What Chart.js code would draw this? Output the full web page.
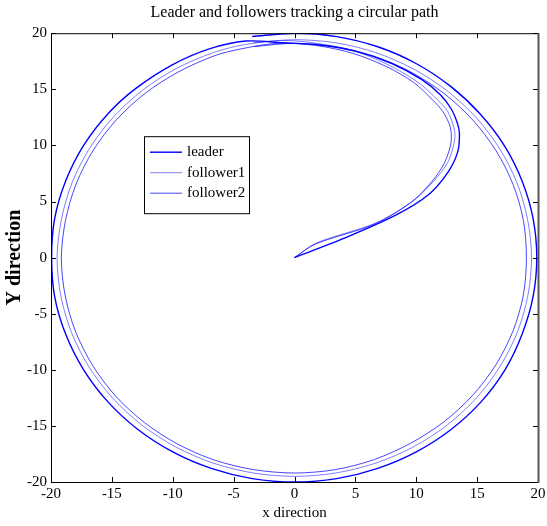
<!DOCTYPE html>
<html>
<head>
<meta charset="utf-8">
<script src="https://cdn.jsdelivr.net/npm/chart.js@4.4.0/dist/chart.umd.min.js"></script>
<style>
  body { margin: 0; background: #fff; }
  #wrap { width: 547px; height: 526px; }
</style>
</head>
<body>
<div id="wrap"><canvas id="chart" width="547" height="526"></canvas></div>
<script>
// values
const leaderX = [0, 4.4, 8.35, 11.0, 12.6, 13.4, 13.55, 13.4, 12.9, 12.0, 10.4, 8.0, 5.0, 2.0, -1.0, -4.0, -7.0, -10.0, -13.0, -15.3,
  -17.32, -18.79, -19.7, -19.95, -19.7, -18.79, -17.32, -15.32, -12.86, -10.0, -6.84, -3.47, 0, 3.47, 6.84, 10.0, 12.86, 15.32,
  17.3, 18.7, 19.6, 19.9, 19.6, 18.7, 17.25, 15.25, 12.8, 9.98, 6.84, 3.47, 0, -3.47];
const leaderY = [0, 1.87, 3.8, 5.6, 7.6, 9.4, 11.0, 11.9, 13.2, 14.5, 15.9, 17.3, 18.4, 18.95, 19.15, 19.3, 18.6, 17.2, 15.1, 12.85,
  10.0, 6.84, 3.47, 0, -3.47, -6.84, -10.0, -12.86, -15.32, -17.32, -18.79, -19.7, -20, -19.7, -18.79, -17.32, -15.32, -12.86,
  -9.98, -6.8, -3.46, 0, 3.46, 6.8, 9.96, 12.8, 15.28, 17.3, 18.79, 19.7, 20, 19.7];

const follower1X = [0, 1.8, 6.7, 9.8, 11.5, 12.6, 13.1, 13.15, 12.6, 11.7, 10.3, 8.2, 5.5, 2.4, -0.8, -4.0, -6.65, -9.73, -12.5, -14.9,
  -16.84, -18.28, -19.15, -19.5, -19.2, -18.32, -16.88, -14.93, -12.53, -9.75, -6.67, -3.38, 0, 3.38, 6.67, 9.75, 12.53, 14.93,
  16.86, 18.3, 19.17, 19.47, 19.15, 18.28, 16.84, 14.9, 12.5, 9.73, 6.65, 3.38, 0, -3.38];
const follower1Y = [0, 1.3, 3.1, 5.1, 6.9, 8.5, 10.2, 11.3, 13.0, 14.1, 15.5, 16.9, 18.2, 19.0, 19.35, 19.0, 18.28, 16.84, 14.9, 12.5,
  9.73, 6.65, 3.38, 0, -3.38, -6.67, -9.75, -12.53, -14.93, -16.88, -18.32, -19.2, -19.5, -19.2, -18.32, -16.88, -14.93, -12.53,
  -9.74, -6.66, -3.38, 0, 3.38, 6.65, 9.73, 12.5, 14.9, 16.84, 18.28, 19.15, 19.42, 19.15];

const follower2X = [0, 1.7, 6.6, 9.6, 11.3, 12.3, 12.85, 12.8, 12.2, 11.3, 9.8, 7.6, 4.8, 1.8, -1.4, -4.4, -6.55, -9.55, -12.28, -14.63,
  -16.54, -17.95, -18.81, -19.15, -18.85, -18.0, -16.6, -14.7, -12.33, -9.6, -6.57, -3.34, 0, 3.33, 6.55, 9.55, 12.28, 14.63,
  16.54, 17.95, 18.8, 19.05, 18.8, 17.95, 16.54, 14.63, 12.28, 9.55, 6.53, 3.32, 0, -3.32];
const follower2Y = [0, 1.2, 3.0, 4.95, 6.8, 8.4, 10.2, 11.6, 13.0, 14.1, 15.6, 17.0, 18.2, 18.9, 19.1, 18.6, 18.0, 16.54, 14.63, 12.28,
  9.55, 6.53, 3.32, 0, -3.32, -6.55, -9.58, -12.33, -14.7, -16.62, -18.05, -18.9, -19.2, -18.9, -18.0, -16.54, -14.63, -12.28,
  -9.55, -6.53, -3.32, 0, 3.32, 6.53, 9.55, 12.28, 14.63, 16.54, 17.95, 18.81, 19.1, 18.81];

const seriesNames = ["leader", "follower1", "follower2"];
const axisTicks = [-20, -15, -10, -5, 0, 5, 10, 15, 20];

const serif = "'Liberation Serif', 'Times New Roman', serif";

function toPoints(xs, ys) {
  return xs.map((v, i) => ({ x: v, y: ys[i] }));
}

// box, inward ticks and the legend inside the axes, MATLAB style
const matlabFrame = {
  id: "matlabFrame",
  afterDraw(chart) {
    const ctx = chart.ctx;
    const a = chart.chartArea;
    const xs = chart.scales.x;
    const ys = chart.scales.y;
    ctx.save();
    ctx.strokeStyle = "#000";
    ctx.lineWidth = 1;
    ctx.beginPath();
    axisTicks.forEach(t => {
      const px = Math.round(xs.getPixelForValue(t)) + 0.5;
      ctx.moveTo(px, a.bottom);
      ctx.lineTo(px, a.bottom - 5);
      ctx.moveTo(px, a.top);
      ctx.lineTo(px, a.top + 5);
      const py = Math.round(ys.getPixelForValue(t)) + 0.5;
      ctx.moveTo(a.left, py);
      ctx.lineTo(a.left + 5, py);
      ctx.moveTo(a.right, py);
      ctx.lineTo(a.right - 5, py);
    });
    ctx.stroke();
    ctx.strokeRect(a.left + 0.5, a.top + 0.5, a.right - a.left, a.bottom - a.top);
    ctx.strokeStyle = "#555";
    ctx.lineWidth = 2;
    ctx.beginPath();
    ctx.moveTo(a.right + 0.5, a.top);
    ctx.lineTo(a.right + 0.5, a.bottom + 1);
    ctx.stroke();

    // legend
    const lx = a.left + 93, ly = a.top + 103, lw = 105, lh = 77;
    ctx.fillStyle = "#fff";
    ctx.fillRect(lx, ly, lw, lh);
    ctx.strokeStyle = "#000";
    ctx.lineWidth = 1;
    ctx.strokeRect(lx + 0.5, ly + 0.5, lw, lh);
    ctx.font = "15px " + serif;
    ctx.textBaseline = "middle";
    ctx.textAlign = "left";
    chart.data.datasets.forEach((ds, i) => {
      const rowY = ly + 16 + i * 20.5;
      ctx.strokeStyle = ds.borderColor;
      ctx.lineWidth = ds.borderWidth;
      ctx.beginPath();
      ctx.moveTo(lx + 6, rowY);
      ctx.lineTo(lx + 38, rowY);
      ctx.stroke();
      ctx.fillStyle = "#000";
      ctx.fillText(ds.label, lx + 43, rowY);
    });
    ctx.restore();
  }
};

new Chart(document.getElementById("chart"), {
  type: "scatter",
  data: {
    datasets: [
      { label: seriesNames[0], data: toPoints(leaderX, leaderY), borderColor: "rgb(0,0,255)", borderWidth: 1.4 },
      { label: seriesNames[1], data: toPoints(follower1X, follower1Y), borderColor: "rgba(0,0,255,0.5)", borderWidth: 1 },
      { label: seriesNames[2], data: toPoints(follower2X, follower2Y), borderColor: "rgba(0,0,255,0.72)", borderWidth: 1 }
    ].map(ds => Object.assign(ds, { showLine: true, pointRadius: 0, tension: 0.3, fill: false }))
  },
  options: {
    responsive: false,
    animation: false,
    layout: { padding: 0 },
    plugins: {
      legend: { display: false },
      tooltip: { enabled: false },
      title: {
        display: true,
        fullSize: false,
        text: "Leader and followers tracking a circular path",
        color: "#000",
        font: { family: serif, size: 16, weight: "normal" },
        padding: { top: 3, bottom: 11 }
      }
    },
    scales: {
      x: {
        type: "linear",
        min: -20,
        max: 20,
        afterBuildTicks: s => { s.ticks = axisTicks.map(v => ({ value: v })); },
        afterFit: s => { s.height = 44; s.paddingLeft = 0; s.paddingRight = 9; },
        grid: { display: false, drawTicks: false },
        border: { display: false },
        ticks: { color: "#000", font: { family: serif, size: 15 }, padding: 3, maxRotation: 0 },
        title: { display: true, text: "x direction", color: "#000", font: { family: serif, size: 15 }, padding: { top: 0, bottom: 4 } }
      },
      y: {
        type: "linear",
        min: -20,
        max: 20,
        afterBuildTicks: s => { s.ticks = axisTicks.map(v => ({ value: v })); },
        afterFit: s => { s.width = 51; },
        grid: { display: false, drawTicks: false },
        border: { display: false },
        ticks: { color: "#000", font: { family: serif, size: 15 }, padding: 4 },
        title: { display: true, text: "Y direction", color: "#000", font: { family: serif, size: 20, weight: "bold" }, padding: { top: 3, bottom: 0 } }
      }
    }
  },
  plugins: [matlabFrame]
});
</script>
</body>
</html>
